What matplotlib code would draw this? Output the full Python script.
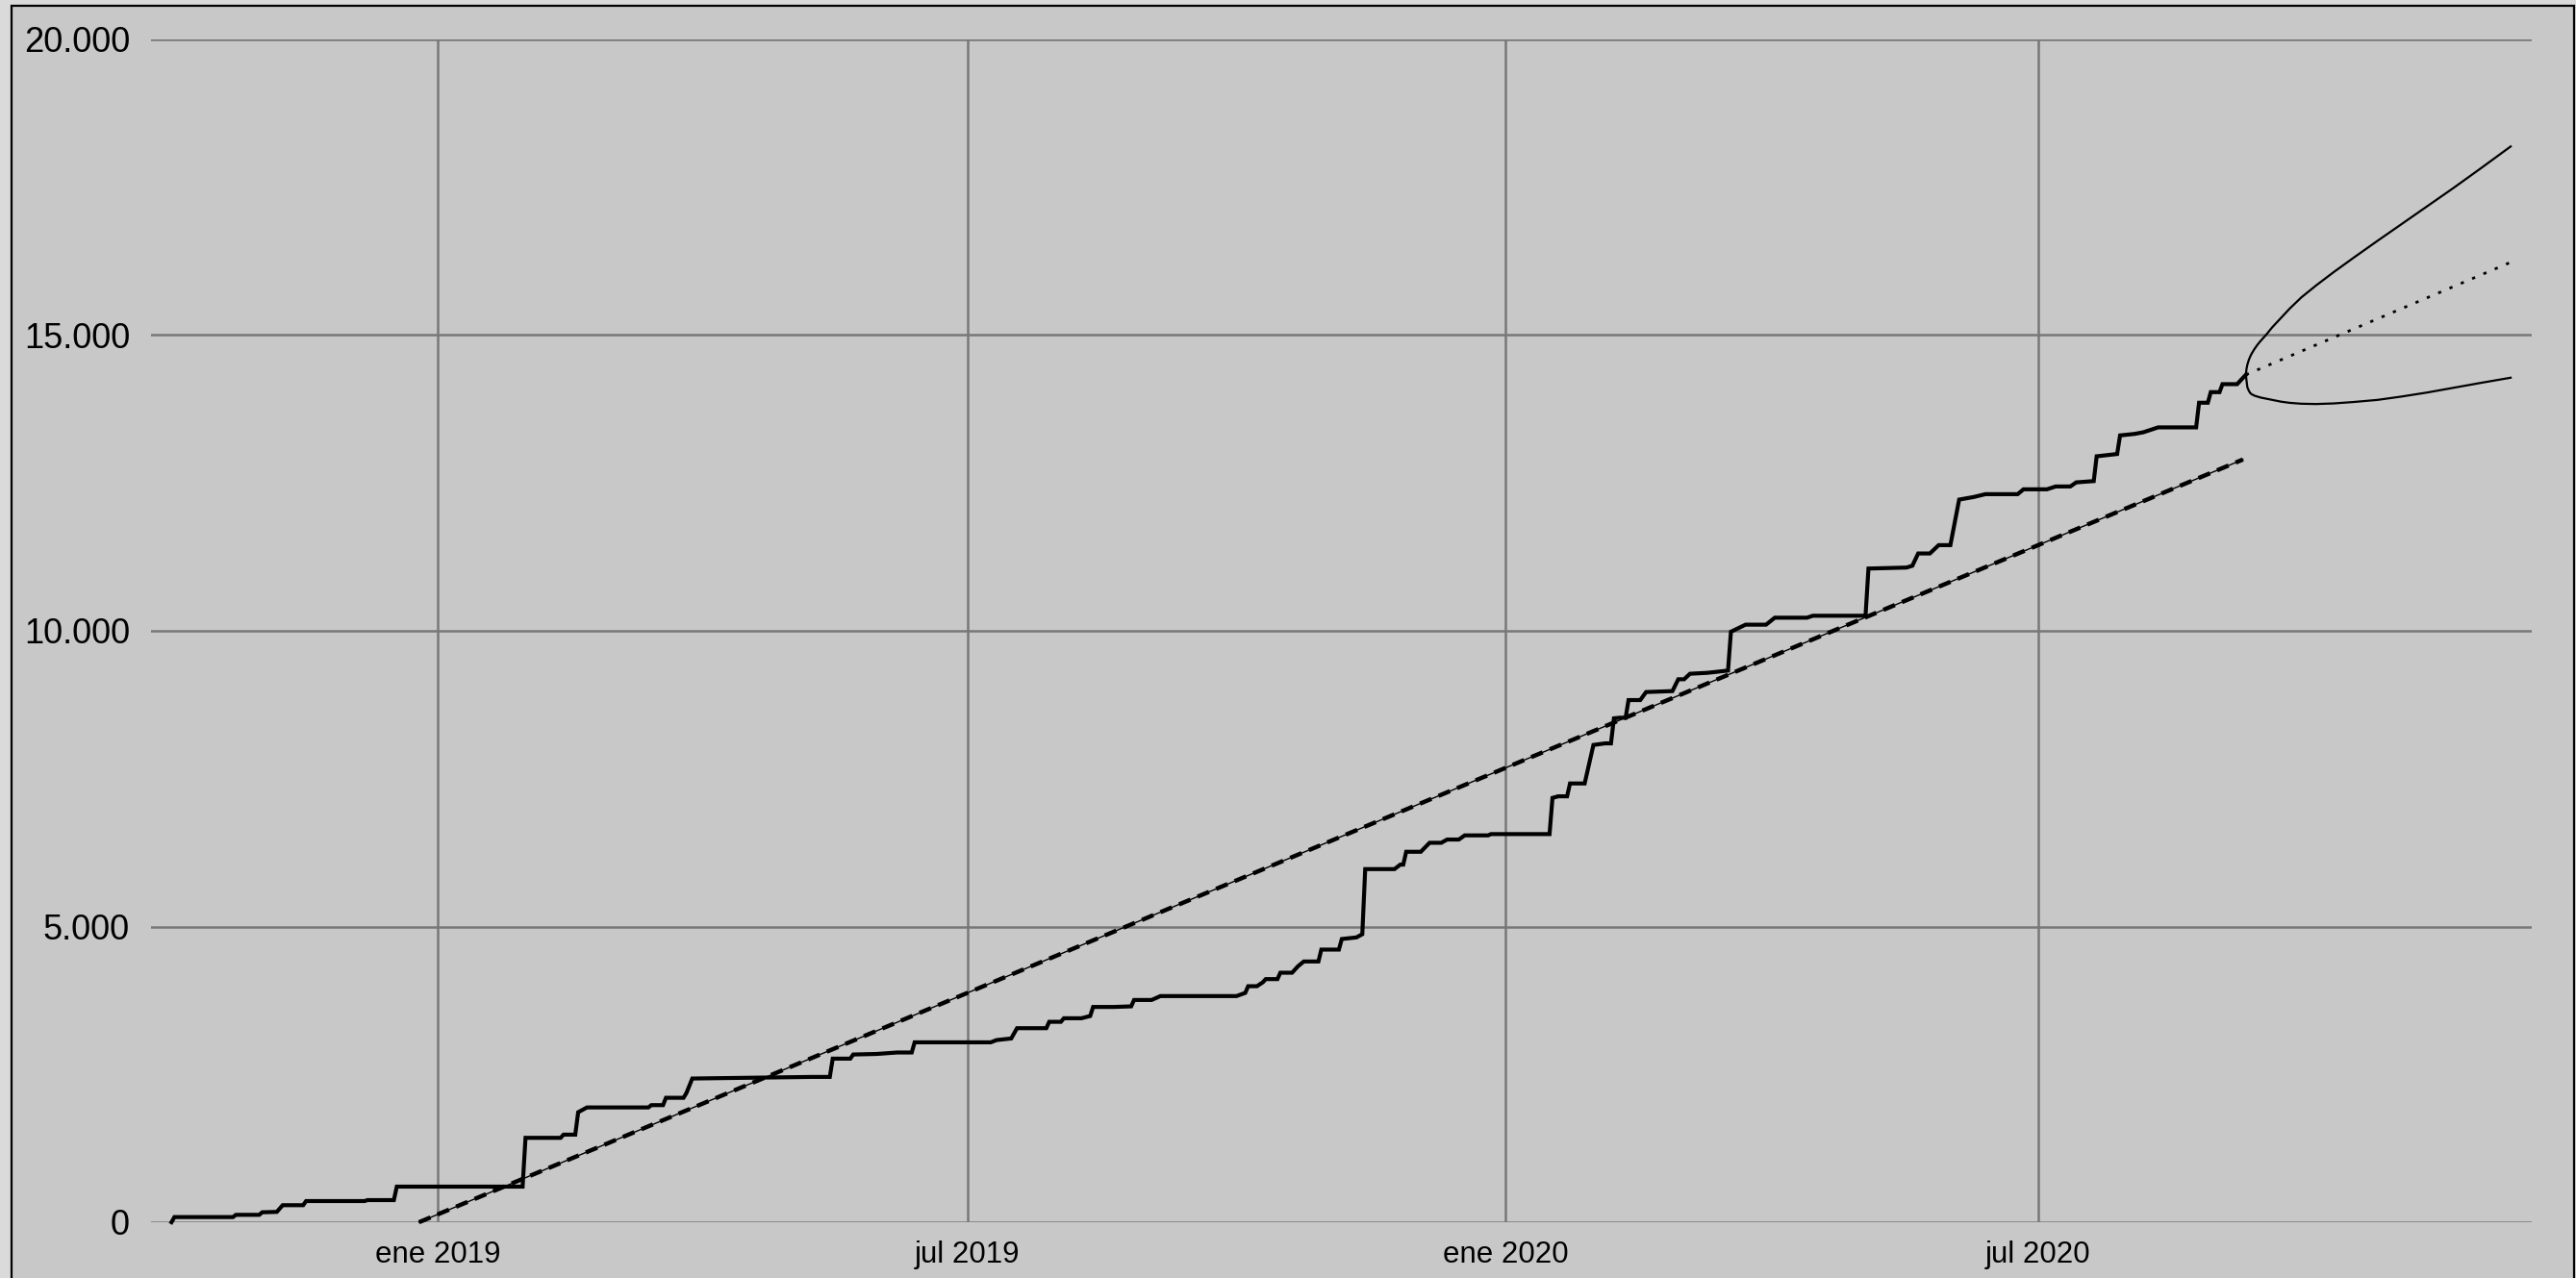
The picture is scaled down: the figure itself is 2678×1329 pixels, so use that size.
import matplotlib
matplotlib.use('Agg')
import matplotlib.pyplot as plt
from matplotlib.patches import Rectangle
import pandas as pd

# --- DATOS (días contados desde el 01/01/2019) ---
base = pd.Timestamp('2019-01-01')

# acumulado real (escalones)
dias_acum = [-91, -90, -70, -69, -61, -60, -55, -53, -46, -45, -25, -24, -15, -14,
             29, 30, 42, 43, 47, 48, 51, 72, 73, 77, 78, 84, 85, 87, 128, 134, 135,
             141, 142, 150, 157, 162, 163, 189, 191, 196, 198, 208, 209, 213, 214,
             220, 223, 224, 231, 237, 238, 244, 247, 273, 276, 277, 280, 282, 283,
             287, 288, 292, 294, 296, 301, 302, 308, 309, 314, 316, 317, 327, 329,
             330, 331, 336, 339, 343, 345, 349, 351, 359, 360, 380, 381, 383, 386,
             387, 392, 395, 399, 401, 402, 404, 406, 407, 411, 413, 422, 424, 426,
             428, 434, 441, 442, 447, 454, 457, 468, 470, 488, 489, 502, 504, 506,
             510, 513, 517, 520, 525, 529, 540, 542, 550, 553, 558, 560, 566, 567,
             574, 575, 580, 583, 588, 601, 602, 605, 606, 609, 610, 615, 618]
valores_acum = [0, 87, 87, 125, 125, 168, 175, 288, 288, 358, 358, 374, 374, 602,
                602, 1427, 1427, 1481, 1481, 1860, 1941, 1941, 1980, 1980, 2104, 2104, 2185, 2430, 2457, 2457, 2766,
                2766, 2836, 2845, 2870, 2870, 3042, 3042, 3080, 3107, 3281, 3281, 3389, 3389, 3449,
                3449, 3487, 3640, 3640, 3650, 3758, 3758, 3824, 3824, 3878, 3991, 3991, 4057, 4111,
                4111, 4219, 4219, 4327, 4409, 4409, 4610, 4610, 4789, 4816, 4870, 5971, 5971, 6047,
                6047, 6264, 6264, 6416, 6416, 6471, 6471, 6541, 6541, 6563, 6563, 7175, 7202, 7202,
                7419, 7419, 8070, 8097, 8097, 8520, 8531, 8531, 8829, 8829, 8965, 8981, 9181, 9181,
                9274, 9290, 9328, 9985, 10104, 10104, 10222, 10222, 10255, 10255, 11053, 11070, 11100, 11308,
                11308, 11449, 11449, 12219, 12263, 12311, 12311, 12393, 12393, 12441, 12441, 12510, 12532, 12951,
                12990, 13304, 13330, 13358, 13440, 13440, 13857, 13857, 14036, 14036, 14171, 14171, 14330]

# tendencia lineal
dias_tend = [-6.4, 617]
valores_tend = [0, 12897]

# pronóstico (días desde el último dato)
t_pron = [0, 0.2, 0.5, 1, 1.5, 2, 3, 4, 5, 7, 9, 12, 15, 19, 24, 30, 37, 45, 53, 62, 71, 80, 90.5]
valores_sup = [14330, 14425, 14500, 14580, 14640, 14690, 14770, 14840, 14900, 15010, 15132,
               15291, 15450, 15640, 15840, 16065, 16315, 16595, 16870, 17180, 17490, 17810, 18190]
valores_inf = [14330, 14240, 14120, 14060, 14020, 14000, 13975, 13960, 13945, 13925, 13905,
               13875, 13855, 13840, 13835, 13845, 13870, 13905, 13960, 14030, 14110, 14190, 14280]
t_medio = [0, 90]
valores_medio = [14330, 16221]
inicio_pron = 618

ticks_x = ['2019-01-01', '2019-07-01', '2020-01-01', '2020-07-01']
etiquetas_x = ['ene 2019', 'jul 2019', 'ene 2020', 'jul 2020']
ticks_y = [0, 5000, 10000, 15000, 20000]
etiquetas_y = ['0', '5.000', '10.000', '15.000', '20.000']


def a_fecha(dias, desde=0):
    return base + pd.to_timedelta([d + desde for d in dias], unit='D')


# --- LIENZO ---
W, H = 2678, 1329
fig = plt.figure(figsize=(W / 100, H / 100), dpi=100, facecolor='#dadada')
fondo = Rectangle((12 / W, -0.02), (2676 - 12) / W, 1.02 - 6 / H,
                  transform=fig.transFigure, facecolor='#c8c8c8',
                  edgecolor='black', linewidth=1.6, zorder=-10)
fig.patches.append(fondo)

ax = fig.add_axes([157 / W, 1 - 1271 / H, (2632 - 157) / W, (1271 - 41) / H])
ax.set_zorder(5)
ax.set_facecolor('none')
for s in ax.spines.values():
    s.set_visible(False)

# acumulado
ax.plot(a_fecha(dias_acum), valores_acum, color='black', linewidth=3.0,
        solid_joinstyle='miter', clip_on=False, zorder=5)

# tendencia: línea fina + trazos gruesos
fechas_tend = a_fecha(dias_tend)
ax.plot(fechas_tend, valores_tend, color='black', linewidth=1.0, clip_on=False, zorder=4)
ax.plot(fechas_tend, valores_tend, color='black', linewidth=3.2,
        linestyle=(0, (2.9, 1.8)), clip_on=False, zorder=4)

# pronóstico
ax.plot(a_fecha(t_medio, inicio_pron), valores_medio, color='black', linewidth=2.0,
        linestyle=(0, (1.2, 3.4)), zorder=4)
ax.plot(a_fecha(t_pron, inicio_pron), valores_sup, color='black', linewidth=1.6,
        solid_joinstyle='round', zorder=4)
ax.plot(a_fecha(t_pron, inicio_pron), valores_inf, color='black', linewidth=1.6,
        solid_joinstyle='round', zorder=4)

# --- EJES ---
ax.set_xlim(pd.Timestamp('2018-09-25'), pd.Timestamp('2020-12-16 17:00'))
ax.set_ylim(0, 20000)
ax.set_xticks(pd.to_datetime(ticks_x))
ax.set_xticklabels(etiquetas_x, fontsize=22.5, fontfamily='Liberation Sans')
ax.set_yticks(ticks_y)
ax.set_yticklabels(etiquetas_y, fontsize=26, fontfamily='Liberation Sans')
ax.tick_params(axis='both', length=0)
ax.tick_params(axis='y', pad=15.8)
ax.tick_params(axis='x', pad=13.5)
ax.grid(True, color='#787878', linewidth=1.8)
ax.set_axisbelow(True)

plt.savefig('out.png', dpi=100, facecolor=fig.get_facecolor())
